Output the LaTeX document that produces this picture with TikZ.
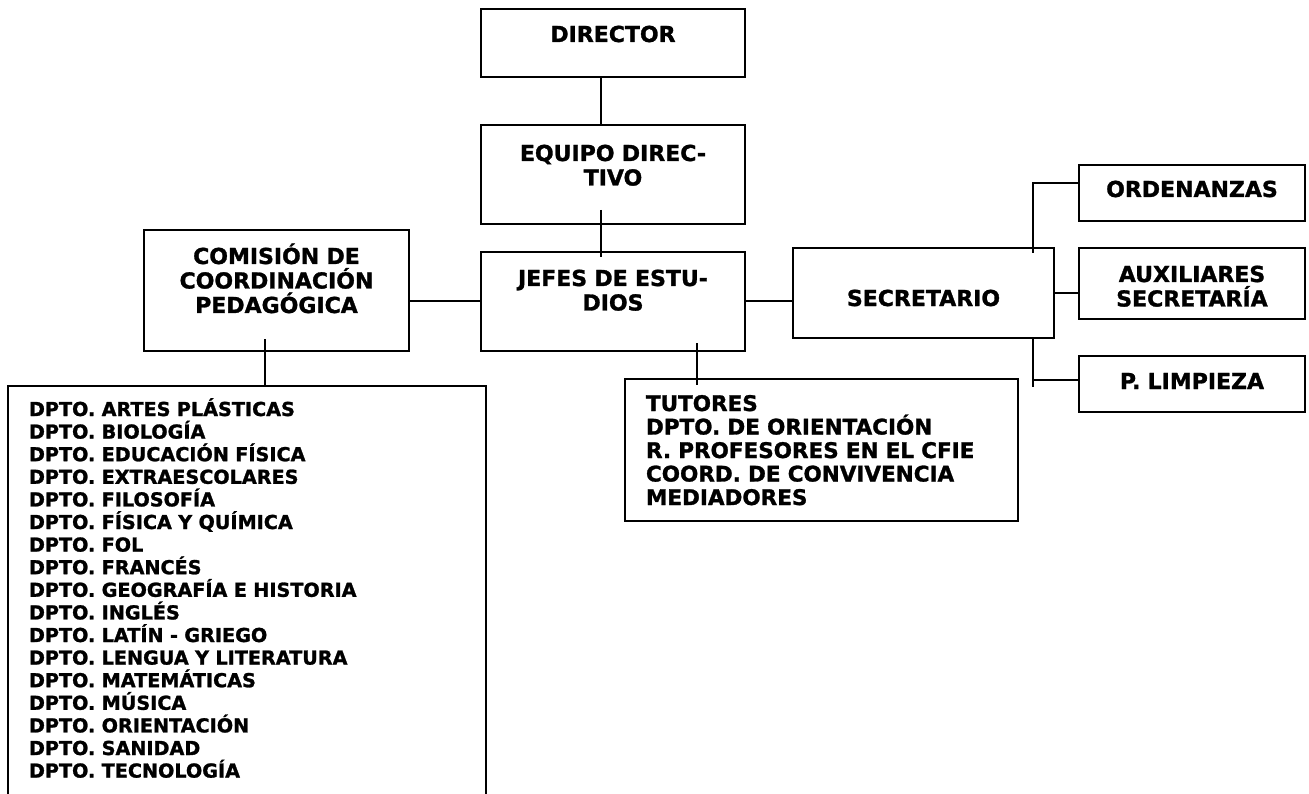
\documentclass[tikz,border=0pt]{standalone}
\usepackage{fontspec}
\setmainfont{DejaVu Sans}[BoldFeatures={FakeBold=1.3}]
\usetikzlibrary{positioning}

\begin{document}
\begin{tikzpicture}[
    x=1pt, y=-1pt,
    orgbox/.style={rectangle, draw=black, line width=2pt, inner sep=0pt, anchor=north west, align=center, font={\bfseries\fontsize{22}{24.5}\selectfont}},
    listbox/.style={orgbox, align=left, inner xsep=21pt, font={\bfseries\fontsize{19.2}{22.6}\selectfont}},
    tutbox/.style={orgbox, align=left, inner xsep=21pt, font={\bfseries\fontsize{21.5}{23.5}\selectfont}},
    link/.style={line width=2pt}
]
\useasboundingbox (0,0) rectangle (1309,794);

% Direccion
\node[orgbox, text width=264pt, text height=33pt, text depth=35pt] (director) at (480,8) {DIRECTOR};
\node[orgbox, text width=264pt, text height=36pt, text depth=63pt, below=46pt of director] (equipo) {EQUIPO DIREC-\\TIVO};
\node[orgbox, text width=264pt, text height=34pt, text depth=65pt, below=26pt of equipo] (jefes) {JEFES DE ESTU-\\DIOS};

% Comision y departamentos
\node[orgbox, text width=265pt, text height=34pt, text depth=87pt] (comision) at (143,229) {COMISIÓN DE\\COORDINACIÓN\\PEDAGÓGICA};
\node[listbox, text width=436pt, text height=30pt, text depth=390pt] (dptos) at (7,385) {DPTO. ARTES PLÁSTICAS\\DPTO. BIOLOGÍA\\DPTO. EDUCACIÓN FÍSICA\\DPTO. EXTRAESCOLARES\\DPTO. FILOSOFÍA\\DPTO. FÍSICA Y QUÍMICA\\DPTO. FOL\\DPTO. FRANCÉS\\DPTO. GEOGRAFÍA E HISTORIA\\DPTO. INGLÉS\\DPTO. LATÍN - GRIEGO\\DPTO. LENGUA Y LITERATURA\\DPTO. MATEMÁTICAS\\DPTO. MÚSICA\\DPTO. ORIENTACIÓN\\DPTO. SANIDAD\\DPTO. TECNOLOGÍA};

% Tutores
\node[tutbox, text width=351pt, text height=32pt, text depth=110pt] (tutores) at (624,378) {TUTORES\\DPTO. DE ORIENTACIÓN\\R. PROFESORES EN EL CFIE\\COORD. DE CONVIVENCIA\\MEDIADORES};

% Secretaria
\node[orgbox, text width=261pt, text height=58pt, text depth=32pt] (secretario) at (792,247) {SECRETARIO};
\node[orgbox, text width=226pt, text height=32pt, text depth=24pt] (ordenanzas) at (1078,164) {ORDENANZAS};
\node[orgbox, text width=226pt, text height=34pt, text depth=37pt] (auxiliares) at (1078,247) {AUXILIARES\\SECRETARÍA};
\node[orgbox, text width=226pt, text height=33pt, text depth=23pt] (limpieza) at (1078,355) {P. LIMPIEZA};

% Lines
\draw[link] ([xshift=-12pt]director.south) -- ([xshift=-12pt]equipo.north);
\draw[link] ([xshift=-12pt,yshift=15pt]equipo.south) -- ([xshift=-12pt,yshift=-6pt]jefes.north);
\draw[link] (jefes.west) -- (jefes.west -| comision.east);
\draw[link] (jefes.east) -- (jefes.east -| secretario.west);
\draw[link] (secretario.east) -- (secretario.east -| auxiliares.west);

\coordinate (jt) at ([xshift=84pt]jefes.south);
\draw[link] ([yshift=9pt]jt) -- ([yshift=-7pt]jt |- tutores.north);

\coordinate (cd) at ([xshift=-11.5pt]comision.south);
\draw[link] ([yshift=13pt]cd) -- (cd |- dptos.north);

\coordinate (so) at ([xshift=109.5pt]secretario.north);
\draw[link] ([yshift=-6pt]so) |- ([yshift=10pt]ordenanzas.west);

\coordinate (sl) at ([xshift=109.5pt]secretario.south);
\draw[link] (sl) -- ([yshift=-48pt]sl);
\draw[link] ([yshift=4pt]limpieza.west) -- ([yshift=4pt]limpieza.west -| sl);

\end{tikzpicture}
\end{document}
